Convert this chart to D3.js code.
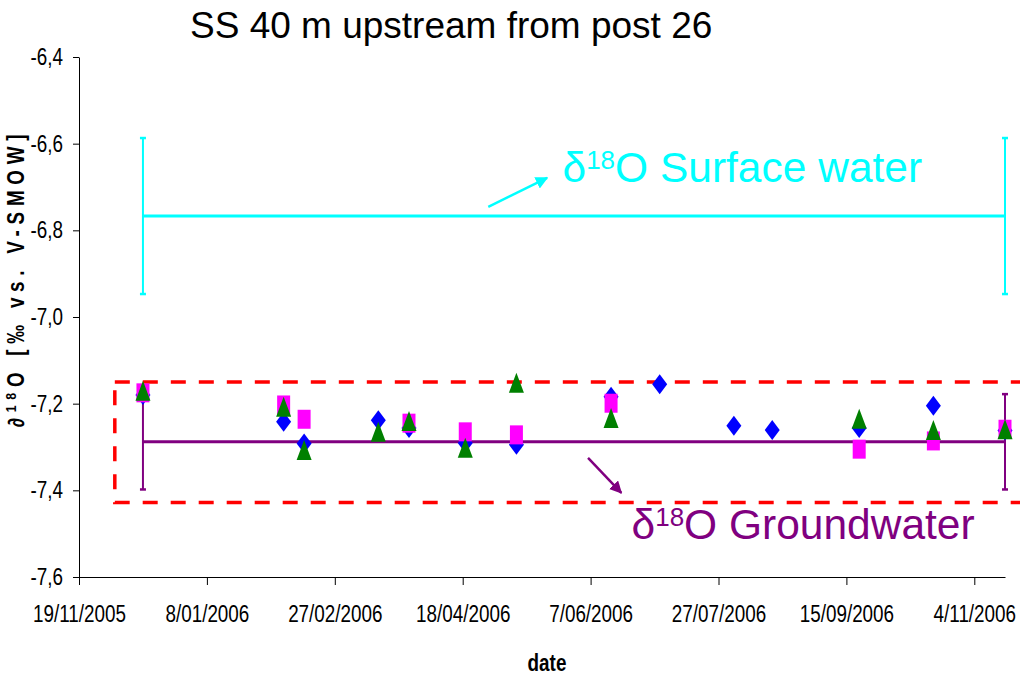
<!DOCTYPE html>
<html>
<head>
<meta charset="utf-8">
<script src="https://cdn.jsdelivr.net/npm/d3@7"></script>
<style>
  body { margin: 0; background: #fff; }
  svg { display: block; }
  .narrow { font-family: "Liberation Sans Narrow", "Arial Narrow", "Liberation Sans", Arial, sans-serif; }
</style>
</head>
<body>
<div id="chart"></div>
<script>
(function drawChart() {
  const width = 1020;
  const height = 678;
  const margin = { top: 57, right: 15, bottom: 101, left: 79 };
  const squeeze = 0.82; // the original uses a narrow font, so glyphs are squeezed

  // data
  const xTickDates = ["2005-11-19", "2006-01-08", "2006-02-27", "2006-04-18",
    "2006-06-07", "2006-07-27", "2006-09-15", "2006-11-04"];
  const yTickValues = [-7.6, -7.4, -7.2, -7.0, -6.8, -6.6, -6.4];

  const blueDates = ["2005-12-14", "2006-02-07", "2006-02-15", "2006-03-16", "2006-03-28",
    "2006-04-19", "2006-05-09", "2006-06-15", "2006-07-04", "2006-08-02", "2006-08-17",
    "2006-09-20", "2006-10-19", "2006-11-16"];
  const blueValues = [-7.18, -7.242, -7.292, -7.238, -7.256, -7.291, -7.295, -7.184,
    -7.155, -7.251, -7.261, -7.256, -7.205, -7.262];

  const magentaDates = ["2005-12-14", "2006-02-07", "2006-02-15", "2006-03-28", "2006-04-19",
    "2006-05-09", "2006-06-15", "2006-09-20", "2006-10-19", "2006-11-16"];
  const magentaValues = [-7.175, -7.203, -7.236, -7.245, -7.265, -7.272, -7.199, -7.305,
    -7.286, -7.259];

  const greenDates = ["2005-12-14", "2006-02-07", "2006-02-15", "2006-03-16", "2006-03-28",
    "2006-04-19", "2006-05-09", "2006-06-15", "2006-09-20", "2006-10-19", "2006-11-16"];
  const greenValues = [-7.17, -7.207, -7.307, -7.265, -7.240, -7.302, -7.152, -7.233,
    -7.235, -7.261, -7.259];

  // mean lines with error bars at both ends
  const meanDates = ["2005-12-14", "2006-11-16"];
  const surfaceMean = -6.767;
  const surfaceErr = 0.18;
  const groundMean = -7.288;
  const groundErr = 0.11;

  // dashed box round the groundwater samples
  const boxDates = ["2005-12-03", "2006-11-25"];
  const boxValues = [-7.15, -7.428];

  const parse = d3.utcParse("%Y-%m-%d");

  const svg = d3.select("#chart").append("svg")
    .attr("width", width)
    .attr("height", height);

  const x = d3.scaleUtc()
    .domain([parse("2005-11-19"), parse("2006-11-16")])
    .range([margin.left, width - margin.right]);

  const y = d3.scaleLinear()
    .domain([-7.6, -6.4])
    .range([height - margin.bottom, margin.top]);

  const locale = d3.formatLocale({ decimal: ",", thousands: ".", grouping: [3], currency: ["", ""], minus: "-" });
  const yFormat = locale.format(".1f");

  // squeeze text horizontally around its anchor
  function narrowText(sel) {
    sel.each(function () {
      const t = d3.select(this);
      const tx = +t.attr("x") || 0;
      t.attr("x", tx / squeeze).attr("transform", `scale(${squeeze},1)`);
    });
  }

  // Axes
  svg.append("g")
    .attr("class", "y-axis")
    .attr("transform", `translate(${margin.left},0)`)
    .call(d3.axisLeft(y).tickValues(yTickValues).tickFormat(yFormat)
      .tickSize(6).tickSizeOuter(0).tickPadding(10));

  svg.append("g")
    .attr("class", "x-axis")
    .attr("transform", `translate(0,${height - margin.bottom})`)
    .call(d3.axisBottom(x).tickValues(xTickDates.map(parse))
      .tickFormat(d3.utcFormat("%-d/%m/%Y"))
      .tickSize(8).tickSizeOuter(0).tickPadding(21));

  svg.selectAll(".domain, .tick line").attr("stroke", "#000").attr("stroke-width", 1);
  svg.selectAll(".tick text")
    .attr("class", "narrow")
    .style("font-size", "23px")
    .attr("fill", "#000")
    .call(narrowText);

  // red dashed box
  svg.append("rect")
    .attr("x", x(parse(boxDates[0])))
    .attr("y", y(boxValues[0]))
    .attr("width", x(parse(boxDates[1])) - x(parse(boxDates[0])))
    .attr("height", y(boxValues[1]) - y(boxValues[0]))
    .attr("fill", "none")
    .attr("stroke", "#ff0000")
    .attr("stroke-width", 3.5)
    .attr("stroke-dasharray", "15,13");

  // mean lines + error bars
  function meanLine(mean, err, color) {
    const g = svg.append("g");
    g.append("line")
      .attr("x1", x(parse(meanDates[0])))
      .attr("x2", x(parse(meanDates[1])))
      .attr("y1", y(mean)).attr("y2", y(mean))
      .attr("stroke", color).attr("stroke-width", 3);
    meanDates.forEach((d) => {
      const cx = x(parse(d));
      g.append("line")
        .attr("x1", cx).attr("x2", cx)
        .attr("y1", y(mean + err)).attr("y2", y(mean - err))
        .attr("stroke", color).attr("stroke-width", 2);
      [mean + err, mean - err].forEach((v) => {
        g.append("line")
          .attr("x1", cx - 3).attr("x2", cx + 3)
          .attr("y1", y(v)).attr("y2", y(v))
          .attr("stroke", color).attr("stroke-width", 2.5);
      });
    });
  }
  meanLine(surfaceMean, surfaceErr, "#00ffff");
  meanLine(groundMean, groundErr, "#800080");

  // markers
  const shapes = {
    diamond: "M0,-10L7.5,0L0,10L-7.5,0Z",
    square: "M-6.5,-9.5h13v19h-13Z",
    triangle: "M0,-10L7.5,10L-7.5,10Z",
  };

  function drawSeries(dates, values, shape, color) {
    const pts = dates.map((d, i) => ({ date: parse(d), value: values[i] }));
    svg.append("g").selectAll("path")
      .data(pts)
      .join("path")
      .attr("d", shapes[shape])
      .attr("transform", (d) => `translate(${x(d.date)},${y(d.value)})`)
      .attr("fill", color);
  }
  drawSeries(blueDates, blueValues, "diamond", "#0000ff");
  drawSeries(magentaDates, magentaValues, "square", "#ff00ff");
  drawSeries(greenDates, greenValues, "triangle", "#008000");

  // annotations (arrow ends and text anchors in data units)
  const defs = svg.append("defs");
  [["arrCyan", "#00ffff"], ["arrPurple", "#800080"]].forEach(([id, c]) => {
    defs.append("marker")
      .attr("id", id)
      .attr("viewBox", "0 0 10 10")
      .attr("refX", 9).attr("refY", 5)
      .attr("markerWidth", 5).attr("markerHeight", 5)
      .attr("markerUnits", "strokeWidth")
      .attr("orient", "auto")
      .append("path").attr("d", "M0,0L10,5L0,10Z").attr("fill", c);
  });

  const day = (n) => d3.utcDay.offset(parse("2005-11-19"), n);

  svg.append("line")
    .attr("x1", x(day(160.8))).attr("y1", y(-6.746))
    .attr("x2", x(day(183.5))).attr("y2", y(-6.679))
    .attr("stroke", "#00ffff").attr("stroke-width", 2.5)
    .attr("marker-end", "url(#arrCyan)");

  svg.append("line")
    .attr("x1", x(day(199.1))).attr("y1", y(-7.325))
    .attr("x2", x(day(212.8))).attr("y2", y(-7.406))
    .attr("stroke", "#800080").attr("stroke-width", 2.5)
    .attr("marker-end", "url(#arrPurple)");

  function isoLabel(px, py, rest, color) {
    const t = svg.append("text")
      .attr("x", px).attr("y", py)
      .attr("fill", color)
      .style("font-family", "'Liberation Sans', Arial, sans-serif")
      .style("font-size", "42.5px");
    t.append("tspan").text("δ");
    t.append("tspan").attr("dy", -13).style("font-size", "26px").text("18");
    t.append("tspan").attr("dy", 13).text(rest);
  }
  isoLabel(x(day(189.1)), y(-6.688), "O Surface water", "#00ffff");
  isoLabel(x(day(216.7)), y(-7.512), "O Groundwater", "#800080");

  // title
  svg.append("text")
    .attr("x", 190).attr("y", 38)
    .style("font-family", "'Liberation Sans', Arial, sans-serif")
    .style("font-size", "37px")
    .attr("fill", "#000")
    .text("SS 40 m upstream from post 26");

  // axis titles
  svg.append("text")
    .attr("class", "narrow")
    .attr("x", 547).attr("y", 671)
    .attr("text-anchor", "middle")
    .style("font-size", "23px")
    .style("font-weight", "bold")
    .text("date")
    .call(narrowText);

  const yl = svg.append("text")
    .attr("class", "narrow")
    .attr("transform", `translate(24,278) rotate(-90) scale(${squeeze},1)`)
    .attr("text-anchor", "middle")
    .style("font-size", "23px")
    .style("font-weight", "bold")
    .style("letter-spacing", "7px");
  yl.append("tspan").text("∂");
  yl.append("tspan").attr("dy", -8).style("font-size", "15px").text("18");
  yl.append("tspan").attr("dy", 8).text("O [‰ vs. V-SMOW]");
})();
</script>
</body>
</html>
